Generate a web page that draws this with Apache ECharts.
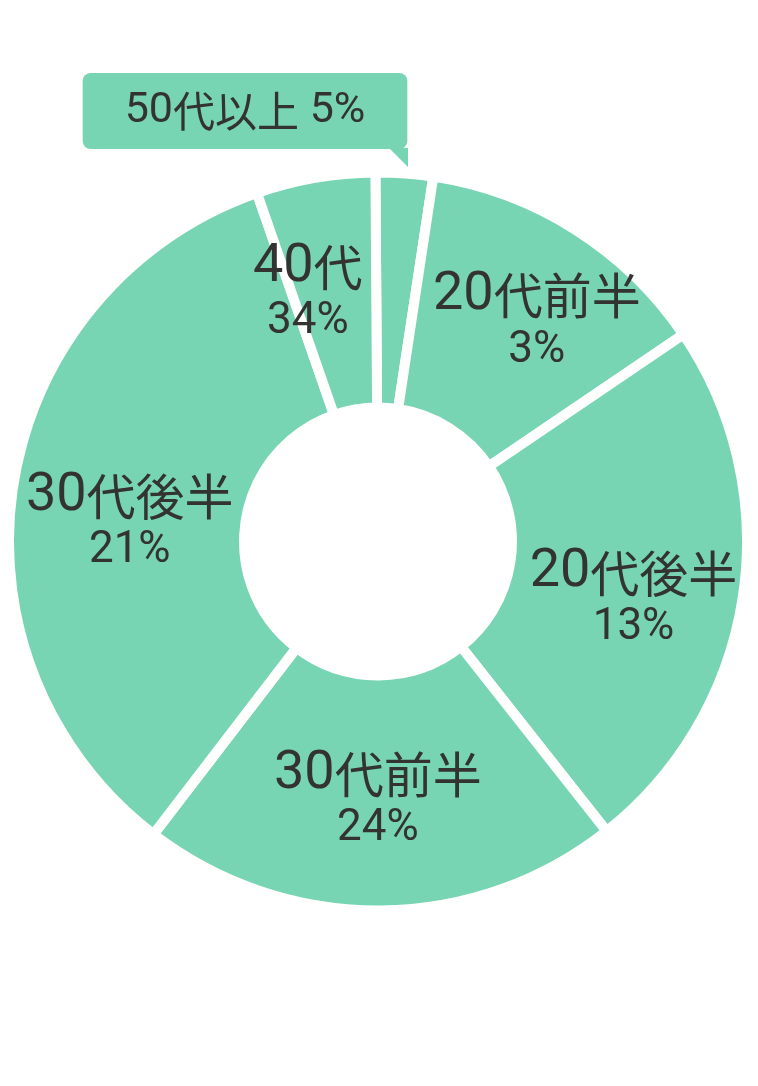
<!DOCTYPE html>
<html>
<head>
<meta charset="utf-8">
<script src="https://cdn.jsdelivr.net/npm/echarts@6/dist/echarts.min.js"></script>
<style>
  html, body { margin: 0; padding: 0; background: #ffffff; }
  #chart { width: 758px; height: 1086px; }
</style>
</head>
<body>
<div id="chart"></div>
<script>
// Slices in clockwise order starting at 12 o'clock, with the label text drawn on each.
const sliceNames = ['50代以上', '20代前半', '20代後半', '30代前半', '30代後半', '40代'];
const labelPercents = [5, 3, 13, 24, 21, 34];
const sliceValues = [2.5, 13.1, 23.8, 21.0, 34.2, 5.2];

// styling
const GREEN = '#78D5B3';
const TEXT = '#333333';
const labelOffsets = [[0, 0], [23, -3], [4, 20], [-2, 6], [3, 23], [-27, 4]];
const CALLOUT = { cx: 245, cy: 111, w: 326, h: 76 };
const LATIN = 'Roboto';
const CJK = 'Noto Sans CJK JP';

function splitRich(s, numStyle, cjkStyle) {
  return s.replace(/([0-9 %]+)|([^0-9 %]+)/g, function (m, d, o) {
    return d ? '{' + numStyle + '|' + d + '}' : '{' + cjkStyle + '|' + o + '}';
  });
}

const chart = echarts.init(document.getElementById('chart'), null, { renderer: 'canvas' });

const data = sliceValues.map(function (v, i) {
  const item = { value: v, name: sliceNames[i] };
  if (i === 0) {
    item.label = {
      backgroundColor: GREEN,
      padding: [17, 42],
      borderRadius: 8
    };
  }
  return item;
});

const tailRight = CALLOUT.cx + CALLOUT.w / 2;
const tailTop = CALLOUT.cy + CALLOUT.h / 2;

chart.setOption({
  animation: false,
  backgroundColor: '#ffffff',
  graphic: [{
    type: 'polygon',
    z: 10,
    shape: { points: [[tailRight - 19, tailTop - 1], [tailRight, tailTop - 1], [tailRight, tailTop + 18]] },
    style: { fill: GREEN }
  }],
  series: [{
    type: 'pie',
    center: [378, 541.5],
    radius: [134, 369],
    startAngle: 90.4,
    clockwise: true,
    avoidLabelOverlap: false,
    silent: true,
    emphasis: { disabled: true },
    itemStyle: { color: GREEN, borderColor: '#ffffff', borderWidth: 10 },
    labelLine: { show: false },
    label: {
      show: true,
      position: 'inside',
      align: 'center',
      verticalAlign: 'middle',
      color: TEXT,
      formatter: function (p) {
        const i = p.dataIndex;
        const pct = labelPercents[i] + '%';
        if (i === 0) {
          return splitRich(sliceNames[i] + ' ' + pct, 'bn', 'bc');
        }
        return splitRich(sliceNames[i], 'n', 'c') + '\n{p|' + pct + '}';
      },
      rich: {
        n: { fontFamily: LATIN, fontWeight: 400, fontSize: 54, lineHeight: 55, color: TEXT, verticalAlign: 'middle' },
        c: { fontFamily: CJK, fontWeight: 400, fontSize: 49, lineHeight: 55, color: TEXT, verticalAlign: 'middle' },
        p: { fontFamily: LATIN, fontWeight: 400, fontSize: 44, lineHeight: 55, color: TEXT, verticalAlign: 'middle' },
        bn: { fontFamily: LATIN, fontWeight: 400, fontSize: 43, lineHeight: 42, color: TEXT, verticalAlign: 'middle' },
        bc: { fontFamily: CJK, fontWeight: 400, fontSize: 42, lineHeight: 42, color: TEXT, verticalAlign: 'middle' }
      }
    },
    labelLayout: function (params) {
      const i = params.dataIndex;
      if (i === 0) {
        return { x: CALLOUT.cx, y: CALLOUT.cy, align: 'center', verticalAlign: 'middle' };
      }
      return { dx: labelOffsets[i][0], dy: labelOffsets[i][1] };
    },
    data: data
  }]
});
</script>
</body>
</html>
